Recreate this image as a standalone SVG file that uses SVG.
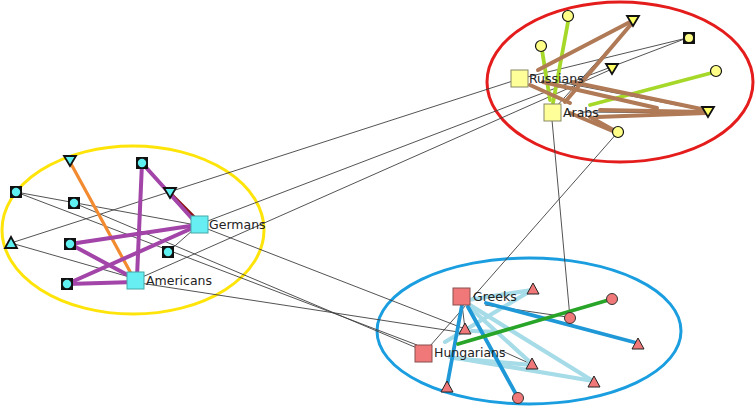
<svg xmlns="http://www.w3.org/2000/svg" xmlns:xlink="http://www.w3.org/1999/xlink" width="756" height="411" viewBox="0 0 756 411">
<style>
.thin{stroke:#404040;stroke-width:0.9;fill:none}
.pur{stroke:#a244a8;stroke-width:4;stroke-linecap:round}
.brn{stroke:#b07a56;stroke-width:4;stroke-linecap:round}
.lime{stroke:#a6d82a;stroke-width:3.8;stroke-linecap:round}
.blu{stroke:#1e98d6;stroke-width:3.8;stroke-linecap:round}
.lblu{stroke:#a6dbe8;stroke-width:4.2;stroke-linecap:round}
.lbl{font-family:"DejaVu Sans",Verdana,sans-serif;font-size:12.5px;fill:#222}
.big-c{fill:#66eef2;stroke:#46a8aa;stroke-width:1}
.big-y{fill:#ffff99;stroke:#888866;stroke-width:1}
.big-p{fill:#f07878;stroke:#885050;stroke-width:1}
</style>
<defs>
<g id="cSq"><rect x="-6" y="-6" width="12" height="12" fill="#111"/><circle r="4.2" fill="#5ff0f2"/></g>
<g id="yS"><rect x="-6" y="-6" width="12" height="12" fill="#111"/><circle r="4" fill="#ffff88"/></g>
<polygon id="cTd" points="-6,-5 6,-5 0,5" fill="#5ff0f2" stroke="#111" stroke-width="1.8"/>
<polygon id="cTu" points="-6,5 6,5 0,-6" fill="#5ff0f2" stroke="#111" stroke-width="1.8"/>
<polygon id="yTd" points="-6,-5 6,-5 0,5" fill="#ffff66" stroke="#111" stroke-width="1.8"/>
<circle id="yC" r="5.5" fill="#ffff88" stroke="#111" stroke-width="1.2"/>
<polygon id="pT" points="-6,5 6,5 0,-6" fill="#f07878" stroke="#222" stroke-width="1"/>
<circle id="pC" r="5.5" fill="#f07878" stroke="#333" stroke-width="1"/>
</defs>
<rect width="756" height="411" fill="#fff"/>
<g id="groups" fill="none" stroke-width="3">
<ellipse cx="133" cy="230" rx="131" ry="84" stroke="#ffe40a"/>
<ellipse cx="620" cy="82" rx="133" ry="80" stroke="#e51c1c"/>
<ellipse cx="529" cy="331" rx="152" ry="73" stroke="#1a9ee0"/>
</g>
<g id="connectors">
<g class="thin">
<line x1="11" y1="243" x2="519" y2="79"/>
<line x1="11" y1="243" x2="133" y2="278"/>
<line x1="16" y1="192" x2="196" y2="225"/>
<line x1="16" y1="192" x2="417" y2="345"/>
<line x1="74" y1="203" x2="417" y2="348"/>
<line x1="205" y1="228" x2="465" y2="329"/>
<line x1="140" y1="283" x2="465" y2="333"/>
<line x1="168" y1="252" x2="193" y2="230"/>
<line x1="205" y1="222" x2="687" y2="38"/>
<line x1="140" y1="278" x2="612" y2="69"/>
<line x1="519" y1="79" x2="687" y2="38"/>
<line x1="560" y1="82" x2="707" y2="111"/>
<line x1="555" y1="108" x2="633" y2="22"/>
<line x1="580" y1="112" x2="707" y2="113"/>
<line x1="552" y1="120" x2="570" y2="318"/>
<line x1="618" y1="132" x2="430" y2="346"/>
<line x1="462" y1="304" x2="465" y2="329"/>
<line x1="485" y1="305" x2="567" y2="317"/>
<line x1="500" y1="350" x2="531" y2="364"/>
</g>
<line x1="70" y1="162" x2="133" y2="277" stroke="#f28a30" stroke-width="3.2"/>
<line x1="172" y1="195" x2="195" y2="218" stroke="#8b1212" stroke-width="3.2"/>
<g class="pur">
<line x1="142" y1="163" x2="197" y2="224"/>
<line x1="142" y1="163" x2="137" y2="277"/>
<line x1="70" y1="244" x2="197" y2="225"/>
<line x1="70" y1="244" x2="135" y2="279"/>
<line x1="67" y1="284" x2="197" y2="226"/>
<line x1="67" y1="284" x2="135" y2="282"/>
</g>
<g class="lime">
<line x1="568" y1="22" x2="553" y2="103"/>
<line x1="542" y1="50" x2="550" y2="100"/>
<line x1="715" y1="72" x2="590" y2="105"/>
</g>
<g class="brn">
<line x1="538" y1="70" x2="630" y2="22"/>
<line x1="565" y1="102" x2="633" y2="22"/>
<line x1="530" y1="85" x2="570" y2="103"/>
<line x1="572" y1="82" x2="706" y2="110"/>
<line x1="543" y1="82" x2="657" y2="108"/>
<line x1="600" y1="110" x2="706" y2="112"/>
<line x1="597" y1="117" x2="706" y2="113"/>
<line x1="570" y1="113" x2="615" y2="132"/>
<line x1="590" y1="117" x2="617" y2="132"/>
</g>
<g class="lblu">
<line x1="445" y1="342" x2="532" y2="290"/>
<line x1="468" y1="300" x2="532" y2="290"/>
<line x1="470" y1="305" x2="593" y2="381"/>
<line x1="467" y1="305" x2="531" y2="363"/>
<line x1="450" y1="357" x2="593" y2="381"/>
<line x1="452" y1="358" x2="531" y2="365"/>
<line x1="472" y1="331" x2="500" y2="332"/>
</g>
<g class="blu">
<line x1="462" y1="305" x2="447" y2="386"/>
<line x1="468" y1="307" x2="517" y2="396"/>
<line x1="486" y1="303" x2="637" y2="343"/>
</g>
<line x1="612" y1="299" x2="458" y2="344" stroke="#28a428" stroke-width="3.8" stroke-linecap="round"/>
</g>
<g id="n-germans"><rect class="big-c" x="191" y="216" width="17" height="17"/><text class="lbl" x="209" y="229">Germans</text></g>
<g id="n-americans"><rect class="big-c" x="127" y="272" width="17" height="17"/><text class="lbl" x="146" y="285">Americans</text></g>
<g id="n-c1"><use href="#cSq" x="142" y="163"/></g>
<g id="n-c2"><use href="#cTd" x="170" y="193"/></g>
<g id="n-c3"><use href="#cSq" x="168" y="252"/></g>
<g id="n-c4"><use href="#cTd" x="70" y="161"/></g>
<g id="n-c5"><use href="#cSq" x="16" y="192"/></g>
<g id="n-c6"><use href="#cSq" x="74" y="203"/></g>
<g id="n-c7"><use href="#cTu" x="11" y="243"/></g>
<g id="n-c8"><use href="#cSq" x="70" y="244"/></g>
<g id="n-c9"><use href="#cSq" x="67" y="284"/></g>
<g id="n-russians"><rect class="big-y" x="511" y="70" width="17" height="17"/><text class="lbl" x="529" y="83">Russians</text></g>
<g id="n-arabs"><rect class="big-y" x="544" y="104" width="17" height="17"/><text class="lbl" x="563" y="117">Arabs</text></g>
<g id="n-y1"><use href="#yC" x="568" y="16"/></g>
<g id="n-y2"><use href="#yC" x="541" y="46"/></g>
<g id="n-y3"><use href="#yTd" x="633" y="21"/></g>
<g id="n-y4"><use href="#yS" x="689" y="38"/></g>
<g id="n-y5"><use href="#yTd" x="612" y="69"/></g>
<g id="n-y6"><use href="#yC" x="716" y="71"/></g>
<g id="n-y7"><use href="#yTd" x="708" y="112"/></g>
<g id="n-y8"><use href="#yC" x="618" y="132"/></g>
<g id="n-greeks"><rect class="big-p" x="453" y="288" width="17" height="17"/><text class="lbl" x="473" y="301">Greeks</text></g>
<g id="n-hungarians"><rect class="big-p" x="415" y="345" width="17" height="17"/><text class="lbl" x="434" y="357">Hungarians</text></g>
<g id="n-p1"><use href="#pT" x="533" y="289"/></g>
<g id="n-p2"><use href="#pC" x="612" y="299"/></g>
<g id="n-p3"><use href="#pC" x="570" y="318"/></g>
<g id="n-p4"><use href="#pT" x="465" y="329"/></g>
<g id="n-p5"><use href="#pT" x="638" y="344"/></g>
<g id="n-p6"><use href="#pT" x="532" y="364"/></g>
<g id="n-p7"><use href="#pT" x="594" y="382"/></g>
<g id="n-p8"><use href="#pT" x="447" y="387"/></g>
<g id="n-p9"><use href="#pC" x="518" y="398"/></g>
</svg>
